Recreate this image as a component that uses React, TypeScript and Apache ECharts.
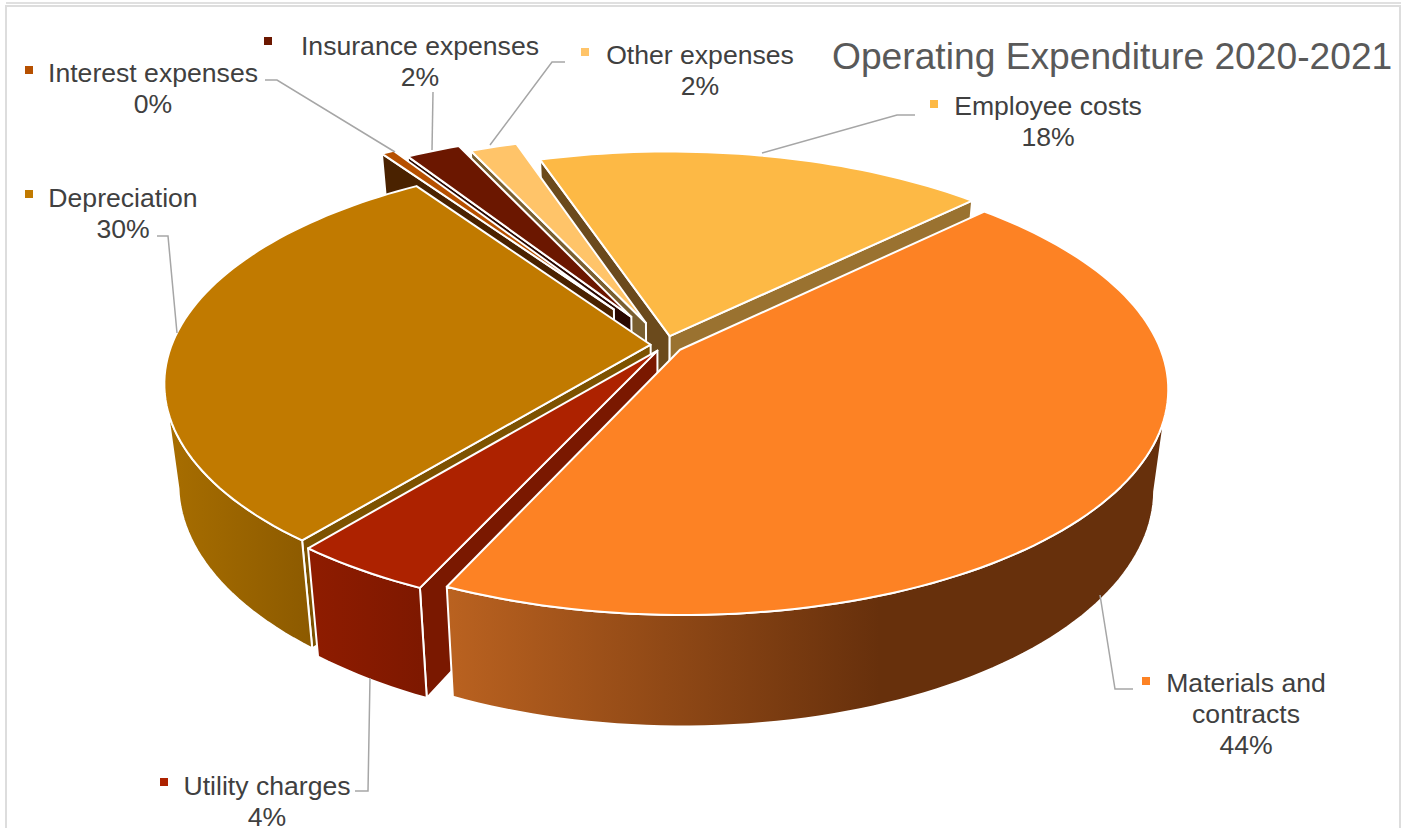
import React, { useEffect, useRef } from "react";
import * as echarts from "echarts";

const TITLE = "Operating Expenditure 2020-2021";
const categories = ["Materials and\ncontracts", "Utility charges", "Depreciation", "Interest expenses", "Insurance expenses", "Other expenses", "Employee costs"];
const values = [44.2, 4.0, 29.7, 0.49, 2.1, 1.81, 17.7];
const topColors = ["#FD8224", "#AD2200", "#C17A00", "#B65000", "#6B1700", "#FFC469", "#FDB945"];
const startWallColors = ["#67300C", "#7A1800", "#7D5200", "#4A2200", "#2A0800", "#7A5F30", "#6B4A1C"];
const endWallColors = ["#67300C", "#7A1800", "#7D5200", "#4A2200", "#2A0800", "#7A5F30", "#9A7230"];
const outerWallColors = [
  ["#BA6220", "#67300C", 0.6],
  ["#8F1C00", "#7D1800", 1],
  ["#A86E00", "#8C5A00", 1],
  ["#4A2200", "#4A2200", 1],
  ["#2A0800", "#2A0800", 1],
  ["#7A5F30", "#7A5F30", 1],
  ["#6B4A1C", "#6B4A1C", 1],
];
const explode = [0.038, 0.03, 0.03, 0.2, 0.15, 0.11, 0.042];
const rimScale = [1, 1, 1, 1.04, 1.04, 1.04, 1];
const drawOrder = [6, 5, 4, 3, 2, 1, 0];

const START_ANGLE = 45.4;
const CX = 665, CY = 345, RX = 479, RY = 218.6, PERSP = 0.169, DEPTH = 98.5, BOTTOM_SCALE = 0.972;

const labelLayout = [
  { cx: 1246, y: 683, kx: 1146, ky: 681, line: [[1133, 689], [1115, 689], [1100, 595]] },
  { cx: 267, y: 786, kx: 164, ky: 782, line: [[355, 791], [368, 791], [370, 678]] },
  { cx: 123, y: 198, kx: 29, ky: 194, line: [[157, 236], [168, 236], [177, 333]] },
  { cx: 153, y: 73, kx: 29, ky: 70, line: [[265, 80], [277, 80], [395, 152]] },
  { cx: 420, y: 46, kx: 268, ky: 41, line: [[433, 92], [432, 150]] },
  { cx: 700, y: 55, kx: 585, ky: 52, line: [[565, 62], [552, 62], [490, 145]] },
  { cx: 1048, y: 106, kx: 934, ky: 104, line: [[915, 115], [897, 115], [762, 153]] },
];
const LINE_H = 31;

const rad = (d: number) => (d * Math.PI) / 180;
const total = values.reduce((a, b) => a + b, 0);

function sliceAngles() {
  let a = START_ANGLE;
  return values.map((v) => {
    const s = a;
    a += (v / total) * 360;
    return [s, a];
  });
}
const angles = sliceAngles();

function topPoint(X: number, Y: number) {
  const w = 1 + PERSP * Y;
  return [CX + (RX * X) / w, CY - (RY * Y) / w];
}
function botPoint(X: number, Y: number) {
  const w = 1 + PERSP * Y;
  return [CX + (BOTTOM_SCALE * RX * X) / w, CY - (BOTTOM_SCALE * RY * Y) / w + DEPTH / w];
}
function area(pts: number[][]) {
  let s = 0;
  pts.forEach((p, i) => {
    const q = pts[(i + 1) % pts.length];
    s += p[0] * q[1] - q[0] * p[1];
  });
  return s;
}

function renderSlice(params: any) {
  const i = params.dataIndex;
  const [a0, a1] = angles[i];
  const mid = rad((a0 + a1) / 2);
  const ox = explode[i] * Math.sin(mid);
  const oy = explode[i] * Math.cos(mid);
  const r = rimScale[i];
  const disc = (d: number): [number, number] => [ox + r * Math.sin(rad(d)), oy + r * Math.cos(rad(d))];
  const steps = Math.max(2, Math.ceil((a1 - a0) / 1.5));
  const arc: number[] = [];
  for (let k = 0; k <= steps; k++) arc.push(a0 + ((a1 - a0) * k) / steps);

  const z = drawOrder.indexOf(i) * 10;
  const border = { stroke: "#FFFFFF", lineWidth: 2, lineJoin: "round" };
  const children: any[] = [];
  const apexT = topPoint(ox, oy);
  const apexB = botPoint(ox, oy);

  const startRim = disc(a0), endRim = disc(a1);
  const startQuad = [apexT, topPoint(...startRim), botPoint(...startRim), apexB];
  const endQuad = [apexT, topPoint(...endRim), botPoint(...endRim), apexB];
  if (area(startQuad) < 0)
    children.push({ type: "polygon", z2: z, shape: { points: startQuad }, style: { fill: startWallColors[i], ...border } });
  if (area(endQuad) > 0)
    children.push({ type: "polygon", z2: z + 1, shape: { points: endQuad }, style: { fill: endWallColors[i], ...border } });

  const visible = arc.filter((d) => disc(d)[1] - oy < -PERSP);
  if (visible.length > 1) {
    const upper = visible.map((d) => topPoint(...disc(d)));
    const lower = visible.map((d) => botPoint(...disc(d))).reverse();
    const [c0, c1, stop] = outerWallColors[i] as [string, string, number];
    children.push({
      type: "polygon",
      z2: z + 2,
      shape: { points: [...upper, ...lower] },
      style: {
        fill: new echarts.graphic.LinearGradient(0, 0, 1, 0, [
          { offset: 0, color: c0 },
          { offset: stop, color: c1 },
          { offset: 1, color: c1 },
        ]),
        ...border,
      },
    });
  }
  const topPts = [apexT, ...arc.map((d) => topPoint(...disc(d)))];
  children.push({ type: "polygon", z2: z + 3, shape: { points: topPts }, style: { fill: topColors[i], ...border } });
  return { type: "group", children };
}

function labelGraphics() {
  const out: any[] = [];
  categories.forEach((name, i) => {
    const l = labelLayout[i];
    const lines = [...name.split("\n"), `${Math.round(values[i])}%`];
    lines.forEach((t, n) => {
      out.push({
        type: "text",
        z: 20,
        x: l.cx,
        y: l.y + n * LINE_H,
        style: { text: t, fill: "#404040", font: '26.6px "Liberation Sans"', textAlign: "center", textVerticalAlign: "middle" },
      });
    });
    out.push({ type: "rect", z: 20, shape: { x: l.kx - 4, y: l.ky - 4, width: 8, height: 8 }, style: { fill: topColors[i] } });
    out.push({ type: "polyline", z: 20, shape: { points: l.line }, style: { fill: "none", stroke: "#A6A6A6", lineWidth: 1.5 } });
  });
  return out;
}

export default function App() {
  const ref = useRef<HTMLDivElement>(null);
  useEffect(() => {
    document.body.style.margin = "0";
    document.body.style.background = "#FFFFFF";
    const chart = echarts.init(ref.current!, undefined, { renderer: "svg" });
    chart.setOption({
      animation: false,
      backgroundColor: "#FFFFFF",
      title: {
        text: TITLE,
        left: 827,
        top: 32,
        textStyle: { fontFamily: "Liberation Sans", fontSize: 37.2, fontWeight: "normal", color: "#595959" },
      },
      series: [
        {
          type: "custom",
          coordinateSystem: "none",
          renderItem: renderSlice,
          data: values,
          silent: true,
        },
      ],
      graphic: [
        { type: "line", z: 1, shape: { x1: 6, y1: 3, x2: 1401, y2: 3 }, style: { stroke: "#E0E0E0", lineWidth: 2 } },
        { type: "polyline", z: 1, shape: { points: [[6, 828], [6, 6], [1400, 6], [1400, 828]] }, style: { fill: "none", stroke: "#DDDDDD", lineWidth: 2 } },
        ...labelGraphics(),
      ],
    });
    return () => chart.dispose();
  }, []);
  return <div ref={ref} style={{ position: "fixed", left: 0, top: 0, width: 1409, height: 828 }} />;
}
